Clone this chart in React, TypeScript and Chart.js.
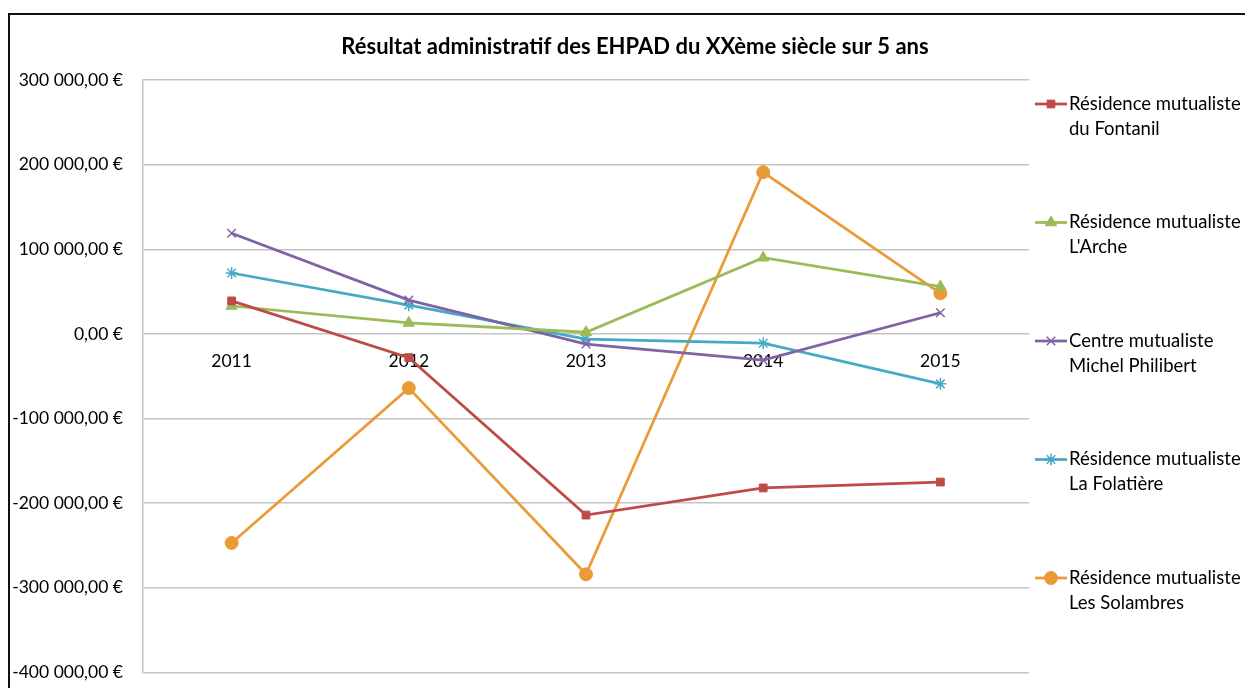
import React, { useEffect, useRef } from 'react';
import { Chart, registerables } from 'chart.js';
import { drawPoint } from 'chart.js/helpers';

Chart.register(...registerables);

const titleText = 'Résultat administratif des EHPAD du XXème siècle sur 5 ans';
const years = ['2011', '2012', '2013', '2014', '2015'];

const fontanil = [39000, -28000, -214000, -182000, -175000];
const arche = [33000, 13000, 2000, 90000, 56000];
const philibert = [119000, 40000, -12000, -31000, 25000];
const folatiere = [72000, 34000, -6000, -11000, -59000];
const solambres = [-247000, -64000, -284000, 191000, 48000];

const legendLines = [
  ['Résidence mutualiste', 'du Fontanil'],
  ['Résidence mutualiste', "L'Arche"],
  ['Centre mutualiste', 'Michel Philibert'],
  ['Résidence mutualiste', 'La Folatière'],
  ['Résidence mutualiste', 'Les Solambres'],
];

const yMin = -400000;
const yMax = 300000;
const yStep = 100000;

const FONT = 'Lato, "Open Sans", sans-serif';
const GRID = '#c4c4c4';
const TEXT = '#000';

function euro(v: number): string {
  const s = Math.abs(Math.round(v)).toString().replace(/\B(?=(\d{3})+(?!\d))/g, ' ');
  return (v < 0 ? '-' : '') + s + ',00 €';
}

const overlayPlugin = {
  id: 'overlay',
  afterDraw(chart: any) {
    const ctx = chart.ctx;
    ctx.save();
    // title
    ctx.fillStyle = TEXT;
    ctx.font = `bold 22px ${FONT}`;
    ctx.textAlign = 'center';
    ctx.textBaseline = 'middle';
    ctx.fillText(titleText, 635, 47);

    // legend
    const x0 = 1035;
    const x1 = 1067;
    const top = 104;
    const gap = 118.5;
    chart.data.datasets.forEach((ds: any, i: number) => {
      const y = top + i * gap;
      ctx.strokeStyle = ds.borderColor;
      ctx.lineWidth = ds.borderWidth;
      ctx.beginPath();
      ctx.moveTo(x0, y);
      ctx.lineTo(x1, y);
      ctx.stroke();
      ctx.fillStyle = ds.pointBackgroundColor;
      ctx.strokeStyle = ds.pointBorderColor;
      ctx.lineWidth = ds.pointBorderWidth;
      drawPoint(ctx, { pointStyle: ds.pointStyle, radius: ds.pointRadius, rotation: 0, borderWidth: ds.pointBorderWidth }, (x0 + x1) / 2, y);
      ctx.fillStyle = TEXT;
      ctx.font = `18.5px ${FONT}`;
      ctx.textAlign = 'left';
      ctx.textBaseline = 'middle';
      legendLines[i].forEach((line, j) => {
        ctx.fillText(line, 1069, y + j * 25);
      });
    });
    ctx.restore();
  },
};

function mk(label: string, data: number[], color: string, pointStyle: string, radius: number, bw: number) {
  return {
    label,
    data,
    borderColor: color,
    backgroundColor: color,
    pointBackgroundColor: color,
    pointBorderColor: color,
    pointStyle,
    pointRadius: radius,
    pointBorderWidth: bw,
    borderWidth: 2.75,
    tension: 0,
  };
}

export default function App() {
  const ref = useRef<HTMLCanvasElement | null>(null);

  useEffect(() => {
    if (!ref.current) return;
    const chart = new Chart(ref.current, {
      type: 'line',
      data: {
        labels: years,
        datasets: [
          mk(legendLines[0].join(' '), fontanil, '#BE4B48', 'rect', 5.5, 1),
          mk(legendLines[1].join(' '), arche, '#9BBB59', 'triangle', 6.5, 1),
          mk(legendLines[2].join(' '), philibert, '#7F63A2', 'crossRot', 6, 1.5),
          mk(legendLines[3].join(' '), folatiere, '#46AAC5', 'star', 6, 1.5),
          mk(legendLines[4].join(' '), solambres, '#EB9A38', 'circle', 6.5, 1),
        ] as any,
      },
      options: {
        animation: false,
        responsive: true,
        maintainAspectRatio: false,
        layout: { padding: { left: 0, top: 80, right: 216, bottom: 2 } },
        plugins: {
          legend: { display: false },
          title: { display: false },
          tooltip: { enabled: false },
        },
        scales: {
          x: {
            position: { y: 0 } as any,
            offset: true,
            grid: { display: false },
            border: { display: false },
            ticks: {
              color: TEXT,
              font: { family: FONT, size: 17.5 },
              padding: 9,
              maxRotation: 0,
            },
          },
          y: {
            min: yMin,
            max: yMax,
            afterFit(scale: any) {
              scale.width = 143;
            },
            ticks: {
              stepSize: yStep,
              color: TEXT,
              font: { family: FONT, size: 17.5 },
              padding: 20,
              callback: (v: any) => euro(Number(v)),
            },
            grid: { color: GRID, lineWidth: 1.5, drawTicks: false },
            border: { display: true, color: GRID, width: 1.5 },
          },
        },
      },
      plugins: [overlayPlugin],
    });
    return () => chart.destroy();
  }, []);

  return (
    <div style={{ position: 'fixed', left: 0, top: 0, width: 1245, height: 688, overflow: 'hidden', background: '#fff' }}>
      <div style={{ position: 'absolute', left: 8, top: 13, width: 1260, height: 700, border: '2px solid #111' }} />
      <div style={{ position: 'absolute', left: 0, top: 0, width: 1245, height: 703 }}>
        <canvas ref={ref} />
      </div>
    </div>
  );
}
